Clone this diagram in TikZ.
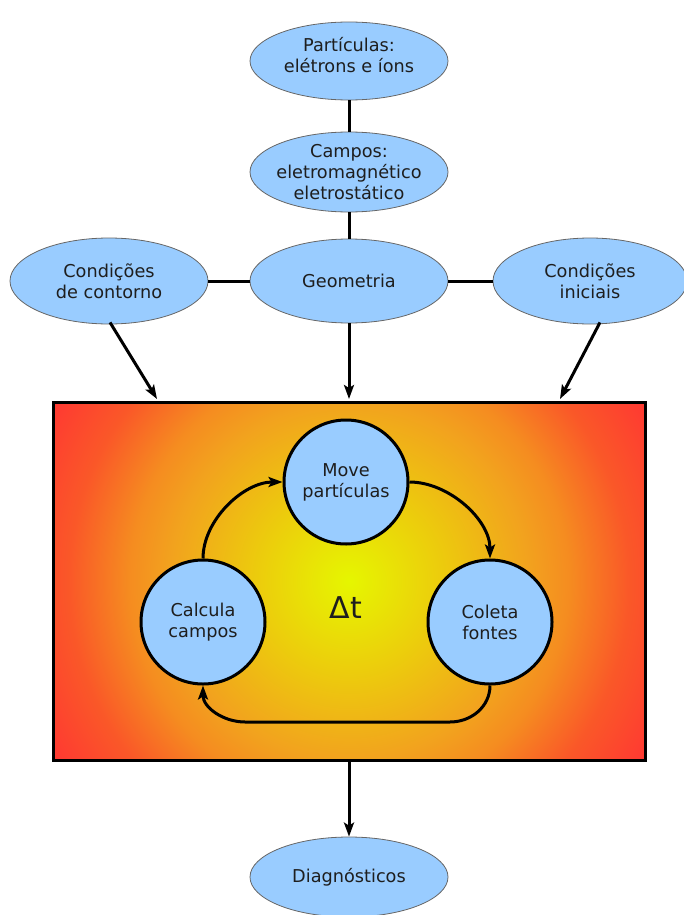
\documentclass[tikz,border=0pt]{standalone}
\usepackage{fontspec}
\setmainfont{DejaVu Sans}
\usetikzlibrary{shapes.geometric,arrows.meta}
\definecolor{nodeblue}{RGB}{153,204,255}
\definecolor{txt}{RGB}{30,30,30}
\definecolor{gA}{RGB}{230,246,0}
\definecolor{gB}{RGB}{236,205,12}
\definecolor{gC}{RGB}{242,162,30}
\definecolor{gD}{RGB}{245,140,32}
\definecolor{gE}{RGB}{250,88,40}
\definecolor{gF}{RGB}{255,56,50}
\pgfdeclareradialshading{boxglow}{\pgfpoint{0bp}{0bp}}{color(0bp)=(gA); color(6.5bp)=(gB); color(13bp)=(gC); color(15.9bp)=(gD); color(20.2bp)=(gE); color(25bp)=(gF); color(50bp)=(gF)}
\tikzset{
  labeltext/.style={align=center, text=txt, font=\fontsize{17.7}{21}\selectfont},
  oval/.style={ellipse, draw=black!60, line width=0.8pt, fill=nodeblue, minimum width=198pt, minimum height=80pt, inner sep=0pt, labeltext},
  stepcirc/.style={circle, draw=black, line width=3pt, fill=nodeblue, minimum size=124pt, inner sep=0pt, labeltext},
  link/.style={line width=3pt},
  flow/.style={line width=3pt, -{Stealth[length=14pt,width=10pt,inset=3pt]}}
}
\begin{document}
\begin{tikzpicture}[x=1pt,y=-1pt]
\useasboundingbox (0,0) rectangle (683,915);
% main box with radial glow
\begin{scope}
  \clip (53,402) rectangle (645,760);
  \shade[shading=boxglow] (349,581) circle (346);
\end{scope}
\node[draw=black, line width=3pt, minimum width=592pt, minimum height=358pt, inner sep=0pt] (box) at (349,581) {};
% top ellipses
\node[oval, minimum height=78pt] (part) at (349,61) {};
\node[labeltext] (parttext) at (349,55) {Partículas:\\elétrons e íons};
\node[oval, minimum height=80pt] (camp) at (349,172) {};
\node[labeltext] (camptext) at (349,172) {Campos:\\eletromagnético\\eletrostático};
\node[oval, minimum height=84pt] (geo) at (349,281) {Geometria};
\node[oval, minimum height=86pt] (cont) at (109,281) {Condições\\de contorno};
\node[oval, minimum width=194pt, minimum height=86pt] (ini) at (590,281) {Condições\\iniciais};
\node[oval, minimum height=80pt] (diag) at (349,877) {Diagnósticos};
% inner cycle
\node[stepcirc] (move) at (346,482) {Move\\partículas};
\node[stepcirc] (calc) at (203,622) {Calcula\\campos};
\node[stepcirc] (col) at (490,622) {Coleta\\fontes};
\node[text=txt, font=\fontsize{30}{30}\selectfont] (dt) at (346,608) {Δt};
% connectors between ellipses
\draw[link] (part) -- (camp);
\draw[link] (camp) -- (geo);
\draw[link] (cont) -- (geo);
\draw[link] (geo) -- (ini);
% arrows to box
\coordinate (tl) at (157,399);
\coordinate (tm) at (349,399);
\coordinate (tr) at (560,399);
\draw[flow] (cont.south) ++(1,-2) coordinate (cs) (cs) -- (tl);
\draw[flow] (geo.south) -- (tm);
\draw[flow] (ini.south) ++(10,-2) coordinate (is) (is) -- (tr);
\draw[flow] (box.south) -- (diag.north);
% cycle arrows
\draw[flow] (calc.north) to[out=90,in=180,looseness=0.9] (move.west);
\draw[flow] (move.east) to[out=0,in=90,looseness=0.9] (col.north);
\coordinate (br) at (450,722);
\coordinate (bl) at (245,722);
\draw[flow] (col.south) to[out=-90,in=0] (br) -- (bl) to[out=180,in=-90] (calc.south);
\end{tikzpicture}
\end{document}
